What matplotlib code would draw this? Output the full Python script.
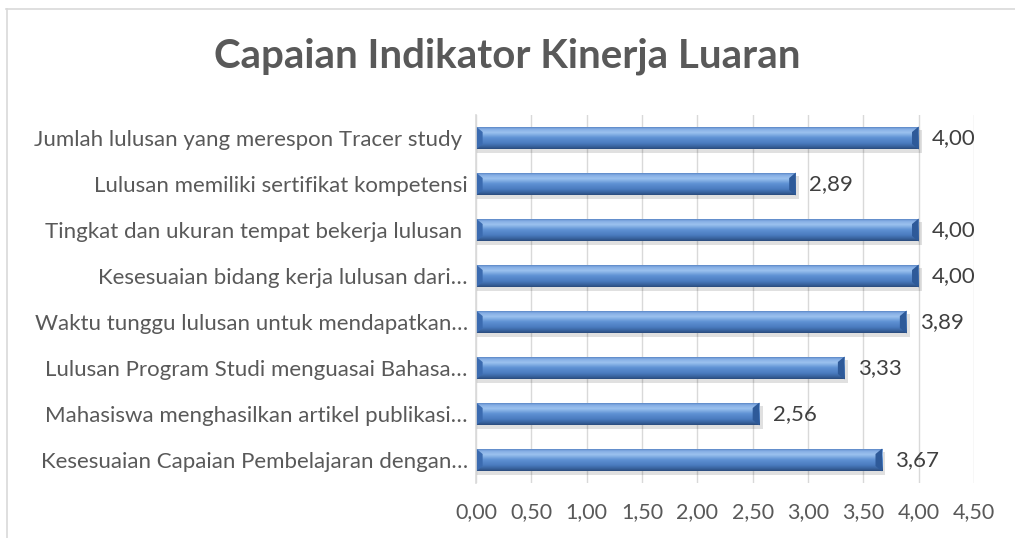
import matplotlib
import matplotlib.pyplot as plt
import numpy as np
from matplotlib.colors import LinearSegmentedColormap
from matplotlib.patches import Rectangle

matplotlib.use("Agg")

categories = [
    "Kesesuaian Capaian Pembelajaran dengan…",
    "Mahasiswa menghasilkan artikel publikasi…",
    "Lulusan Program Studi menguasai Bahasa…",
    "Waktu tunggu lulusan untuk mendapatkan…",
    "Kesesuaian bidang kerja lulusan dari…",
    "Tingkat dan ukuran tempat bekerja lulusan ",
    "Lulusan memiliki sertifikat kompetensi",
    "Jumlah lulusan yang merespon Tracer study ",
]
values = [3.67, 2.56, 3.33, 3.89, 4.00, 4.00, 2.89, 4.00]
xticks = [0, 0.5, 1.0, 1.5, 2.0, 2.5, 3.0, 3.5, 4.0, 4.5]

FONT = "Lato"
GRAY = "#595959"

plt.rcParams["font.family"] = [FONT, "DejaVu Sans"]

fig = plt.figure(figsize=(10.15, 5.38), dpi=100)
ax = fig.add_axes([476 / 1015, 1 - 483 / 538, (974 - 476) / 1015, 368 / 538])

# gradient for the "cylinder" look, top -> bottom
bar_cmap = LinearSegmentedColormap.from_list(
    "bar3d",
    [(0.0, "#4674b6"), (0.12, "#84ade4"), (0.28, "#9cc2ef"), (0.5, "#5f92d4"),
     (0.75, "#4a7bbf"), (0.9, "#38629d"), (1.0, "#2a4c7d")],
)
grad = np.linspace(0, 1, 64).reshape(-1, 1)

h = 0.5
y = np.arange(len(categories))
bars = ax.barh(y, values, height=h, color="none", zorder=2)
for b, v in zip(bars, values):
    y0 = b.get_y()
    # soft shadow under the bar
    ax.add_patch(Rectangle((0, y0 - 0.07), v + 0.03, h, color="#000000", alpha=0.12,
                           lw=0, zorder=1.5))
    im = ax.imshow(grad, cmap=bar_cmap, aspect="auto", extent=(0, v, y0, y0 + h),
                   origin="upper", zorder=2, interpolation="bilinear")
    im.set_clip_path(b)
    # bevelled ends
    ax.fill([0, 0.06, 0.06, 0], [y0 + h, y0 + h - 0.12, y0 + 0.12, y0], color="#3b6bb0",
            lw=0, zorder=2.5)
    ax.fill([v, v - 0.06, v - 0.06, v], [y0 + h, y0 + h - 0.12, y0 + 0.12, y0],
            color="#2e5a99", lw=0, zorder=2.5)
    ax.text(v + 0.12, b.get_y() + h / 2, f"{v:.2f}".replace(".", ","), va="center",
            ha="left", fontsize=16, color="#404040")

ax.set_xlim(0, 4.5)
ax.set_ylim(-0.5, len(categories) - 0.5)
ax.set_xticks(xticks)
ax.set_xticklabels([f"{t:.2f}".replace(".", ",") for t in xticks], fontsize=15.5, color=GRAY)
ax.set_yticks(y)
ax.set_yticklabels(categories, fontsize=16, color=GRAY)
ax.tick_params(axis="both", length=0)
ax.tick_params(axis="x", pad=14)
ax.tick_params(axis="y", pad=6)
ax.grid(axis="x", color="#d9d9d9", lw=1, zorder=0)
ax.set_axisbelow(True)
for s in ["top", "right", "bottom"]:
    ax.spines[s].set_visible(False)
ax.spines["left"].set_color("#d9d9d9")
ax.spines["left"].set_linewidth(1.2)

fig.text(0.5, 1 - 56 / 538, "Capaian Indikator Kinerja Luaran", ha="center", va="center",
         fontsize=29, fontweight="bold", color=GRAY)

# outer chart frame (only top and left visible in the crop)
fig.add_artist(plt.Line2D([6 / 1015, 1], [1 - 9 / 538, 1 - 9 / 538], color="#d9d9d9", lw=1.2))
fig.add_artist(plt.Line2D([7 / 1015, 7 / 1015], [0, 1 - 9 / 538], color="#d9d9d9", lw=1.2))

fig.savefig("out.png", dpi=100)
